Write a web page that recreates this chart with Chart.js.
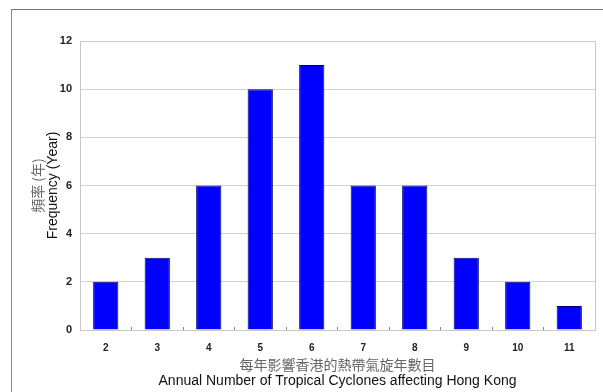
<!DOCTYPE html>
<html>
<head>
<meta charset="utf-8">
<script src="https://cdn.jsdelivr.net/npm/chart.js@4"></script>
<style>
  html, body { margin: 0; padding: 0; background: #fff; }
  #wrap { position: relative; width: 603px; height: 392px; }
  #frame { position: absolute; left: 11px; top: 9px; right: 0; bottom: 0;
           border-top: 1px solid #777; border-left: 1px solid #888; }
  canvas { position: absolute; left: 0; top: 0; }
</style>
</head>
<body>
<div id="wrap">
  <div id="frame"></div>
  <canvas id="tcChart" width="603" height="392"></canvas>
</div>
<script>
// annual number of TCs affecting HK -> how many years
const cycloneCounts = ['2', '3', '4', '5', '6', '7', '8', '9', '10', '11'];
const yearFrequency = [2, 3, 6, 10, 11, 6, 6, 3, 2, 1];
const yTicks = [0, 2, 4, 6, 8, 10, 12];

const xTitleZh = '每年影響香港的熱帶氣旋年數目';
const xTitleEn = 'Annual Number of Tropical Cyclones affecting Hong Kong';
const yTitleZh = '頻率 (年)';
const yTitleEn = 'Frequency (Year)';

const enFont = '"Liberation Sans", Arial, sans-serif';
const zhFont = '"Noto Sans CJK TC", "Noto Sans CJK SC", sans-serif';

// plot frame + axis titles
const titlesPlugin = {
  id: 'titles',
  beforeDatasetsDraw(chart) {
    const { ctx, chartArea: a } = chart;
    ctx.save();
    ctx.strokeStyle = '#c8c8c8';
    ctx.lineWidth = 1;
    ctx.strokeRect(a.left + 0.5, a.top + 0.5, a.right - a.left, a.bottom - a.top);
    ctx.restore();
  },
  afterDraw(chart) {
    const { ctx, chartArea: a } = chart;
    const cx = (a.left + a.right) / 2;
    const cy = (a.top + a.bottom) / 2;
    ctx.save();
    ctx.textAlign = 'center';
    ctx.textBaseline = 'middle';
    ctx.fillStyle = '#666';
    ctx.font = '14px ' + zhFont;
    ctx.fillText(xTitleZh, cx, a.bottom + 35);
    ctx.fillStyle = '#111';
    ctx.font = '14px ' + enFont;
    ctx.fillText(xTitleEn, cx, a.bottom + 51);

    ctx.translate(0, cy);
    ctx.rotate(-Math.PI / 2);
    ctx.fillStyle = '#666';
    ctx.font = '14px ' + zhFont;
    ctx.fillText(yTitleZh, 0, a.left - 42);
    ctx.fillStyle = '#111';
    ctx.font = '14px ' + enFont;
    ctx.fillText(yTitleEn, 0, a.left - 27);
    ctx.restore();
  }
};

new Chart(document.getElementById('tcChart'), {
  type: 'bar',
  data: {
    labels: cycloneCounts,
    datasets: [{
      data: yearFrequency,
      backgroundColor: '#0000ff',
      borderColor: '#00006a',
      borderWidth: 1,
      barPercentage: 0.49,
      categoryPercentage: 1
    }]
  },
  options: {
    responsive: false,
    animation: false,
    layout: { padding: { left: 0, top: 41, right: 8, bottom: 0 } },
    plugins: {
      legend: { display: false },
      tooltip: { enabled: false }
    },
    scales: {
      x: {
        grid: { display: true, drawOnChartArea: false, tickLength: -3, color: '#888' },
        border: { color: '#888' },
        ticks: { padding: 15, color: '#222', font: { family: enFont, size: 10, weight: 'bold' } },
        afterFit(scale) { scale.height = 62; }
      },
      y: {
        min: 0,
        max: 12,
        afterBuildTicks(scale) { scale.ticks = yTicks.map(v => ({ value: v })); },
        grid: { color: '#d2d2d2', drawTicks: false },
        border: { color: '#888' },
        ticks: { padding: 8, color: '#222', font: { family: enFont, size: 11, weight: 'bold' } },
        afterFit(scale) { scale.width = 80; }
      }
    }
  },
  plugins: [titlesPlugin]
});
</script>
</body>
</html>
